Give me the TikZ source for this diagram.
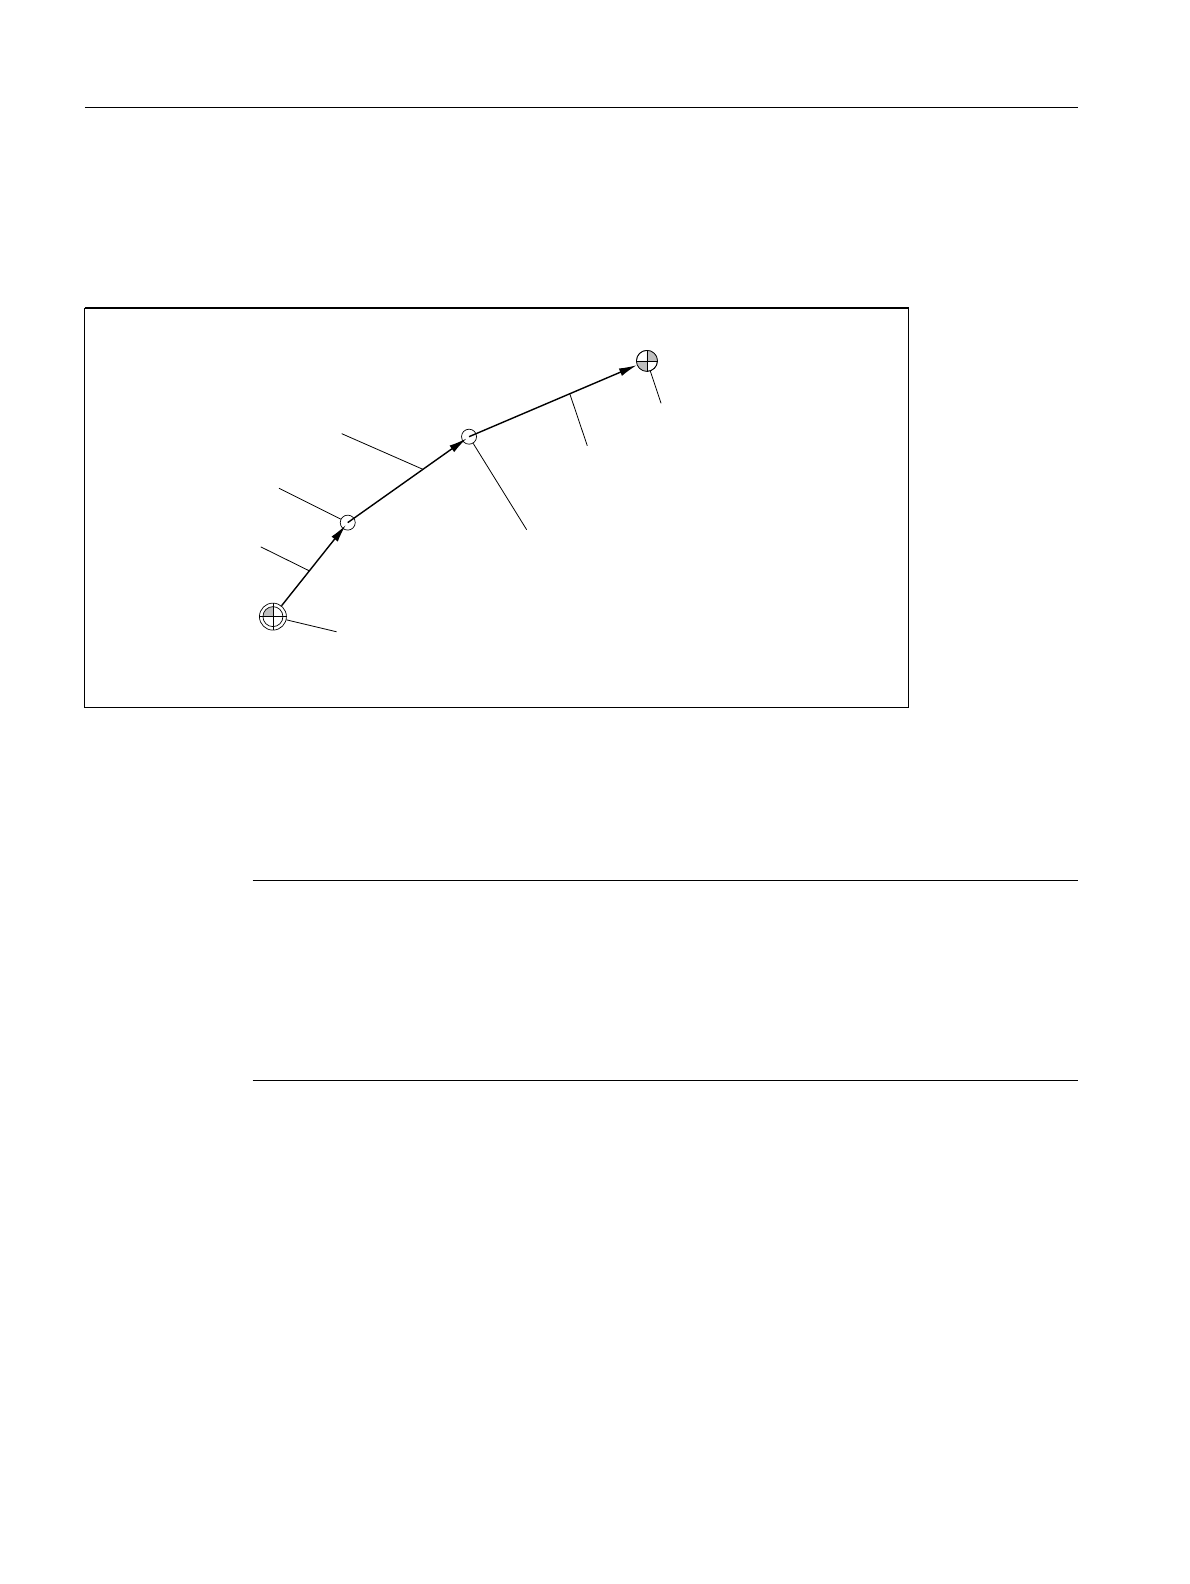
\documentclass[tikz,border=0pt]{standalone}
\usetikzlibrary{arrows.meta}
\begin{document}
\begin{tikzpicture}[x=1.011pt,y=-1.011pt,
  leader/.style={line width=0.8pt},
  track/.style={line width=1.4pt,-{Latex[length=18pt,width=8pt]}},
  waypoint/.style={circle,draw,line width=0.7pt,inner sep=0pt,minimum size=15pt}]
\useasboundingbox (0,0) rectangle (1177,1567);
% page rules
\draw[line width=1.3pt] (84,106) -- (1066,106);
\draw[line width=1.3pt] (250,871) -- (1066,871);
\draw[line width=1.3pt] (250,1069) -- (1066,1069);
% frame
\draw[line width=1.1pt] (84,305) rectangle (899,700);
\draw[line width=1.9pt] (84,305) -- (899,305);
% points
\node[waypoint,minimum size=27pt] (A) at (270,610) {};
\node[waypoint] (B) at (344,517) {};
\node[waypoint] (C) at (464,432) {};
\node[waypoint,minimum size=21pt] (D) at (640,357) {};
% start symbol
\fill[gray!50] (A.center) -- ++(0pt,10pt) arc[start angle=90,end angle=180,radius=10pt] -- cycle;
\draw[line width=0.7pt] (A.center) circle[radius=10pt];
\draw[line width=0.7pt] (A.west) -- (A.east);
\draw[line width=0.7pt] (A.north) -- (A.south);
% target symbol
\fill[gray!50] (D.center) -- ++(0pt,10.5pt) arc[start angle=90,end angle=0,radius=10.5pt] -- cycle;
\fill[gray!50] (D.center) -- ++(0pt,-10.5pt) arc[start angle=270,end angle=180,radius=10.5pt] -- cycle;
\draw[line width=0.7pt] (D.center) circle[radius=10.5pt];
\draw[line width=0.7pt] (D.west) -- (D.east);
\draw[line width=0.7pt] (D.north) -- (D.south);
% track
\draw[track,shorten >=3pt] (A) -- coordinate[pos=0.42] (ab) (B.center);
\draw[track,shorten >=3pt] (B.center) -- coordinate[pos=0.62] (bc) (C.center);
\draw[track] (C.center) -- coordinate[pos=0.6] (cd) (D);
% leader lines
\coordinate (l1) at (258,541);
\coordinate (l2) at (276,483);
\coordinate (l3) at (338,429);
\coordinate (l4) at (521,524);
\coordinate (l5) at (581,441);
\coordinate (l6) at (654,399);
\coordinate (l7) at (333,625);
\draw[leader] (ab) -- (l1);
\draw[leader] (B) -- (l2);
\draw[leader] (bc) -- (l3);
\draw[leader] (C) -- (l4);
\draw[leader] (cd) -- (l5);
\draw[leader] (D) -- (l6);
\draw[leader] (A) -- (l7);
\end{tikzpicture}
\end{document}
